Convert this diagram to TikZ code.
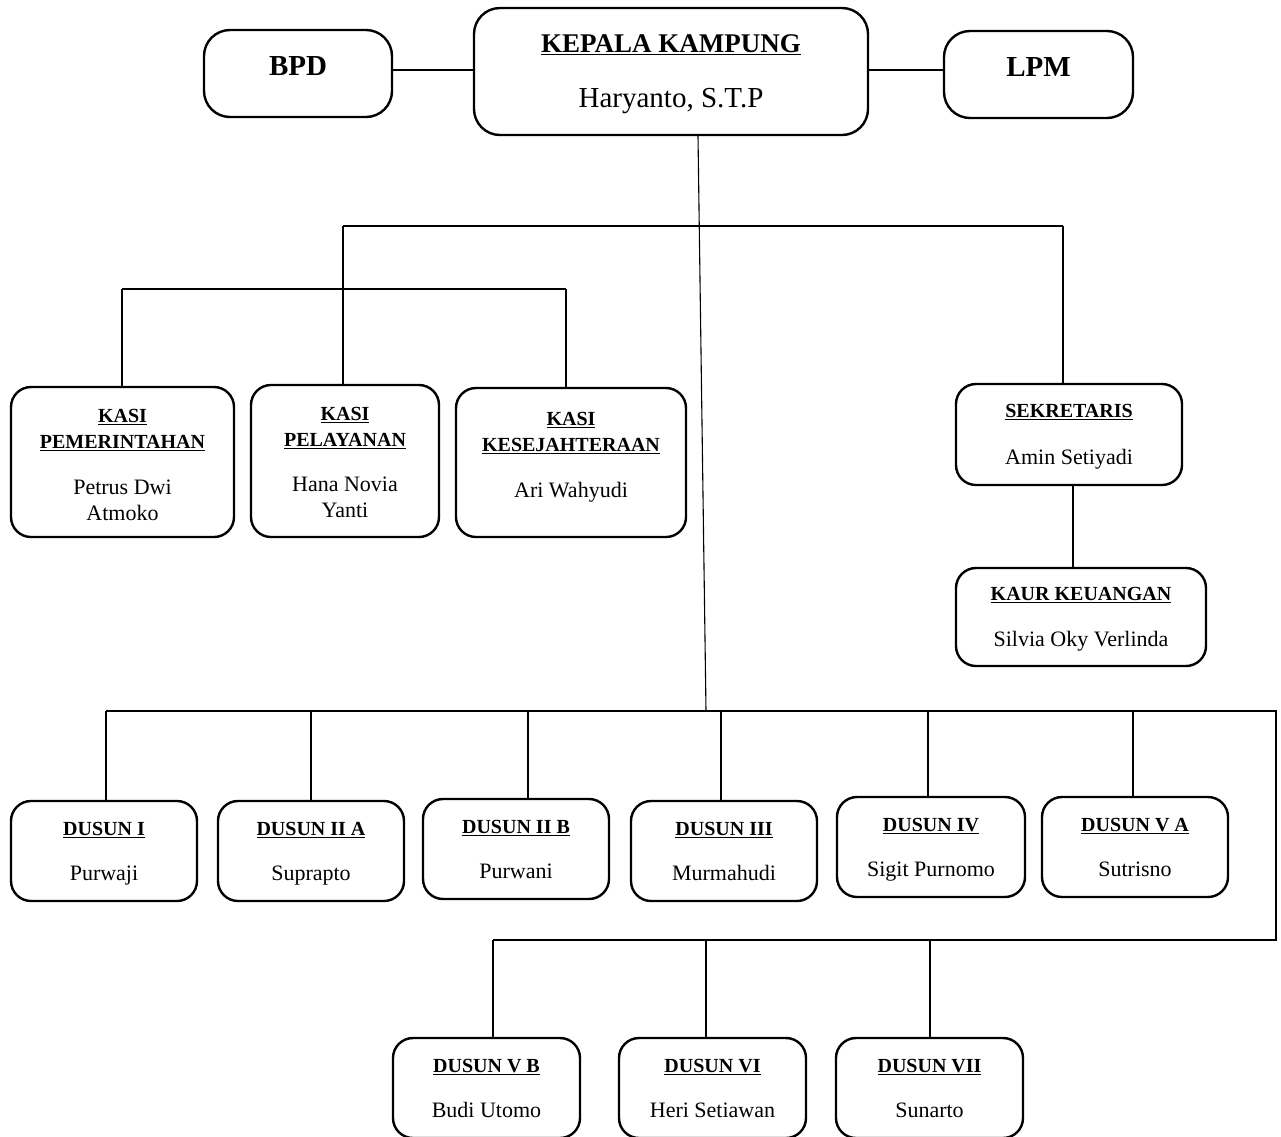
\documentclass[tikz,border=0pt]{standalone}
\usepackage{fontspec}
\setmainfont{Liberation Serif}
\newcommand{\ttl}[1]{{\fontsize{20}{26}\selectfont\bfseries\underline{#1}}}
\newcommand{\nm}[1]{{\fontsize{22}{26}\selectfont\raisebox{0pt}[\height][0pt]{#1}}}
\begin{document}
\begin{tikzpicture}[x=1pt,y=-1pt,
  box/.style={draw, line width=2.4pt, rounded corners=20pt, align=center, inner sep=0pt,
    font=\fontsize{20}{26}\selectfont},
  bigbox/.style={box, rounded corners=26pt, font=\fontsize{27}{32}\selectfont},
  conn/.style={line width=1.1pt}]
\useasboundingbox (0,0) rectangle (1281,1136);

% top row
\node[bigbox, minimum width=188pt, minimum height=87pt] (bpd) at (298,73.5)
  {\raisebox{14pt}{\fontsize{29}{32}\selectfont\bfseries BPD}};
\node[bigbox, minimum width=394pt, minimum height=127pt] (kepala) at (671,71.5)
  {{\fontsize{27}{32}\selectfont\bfseries\underline{KEPALA KAMPUNG}}\\[23pt]{\fontsize{29}{32}\selectfont\raisebox{0pt}[\height][0pt]{Haryanto, S.T.P}}};
\node[bigbox, minimum width=189pt, minimum height=87pt] (lpm) at (1038.5,74.5)
  {\raisebox{14pt}{\fontsize{29}{32}\selectfont\bfseries LPM}};

% kasi row
\node[box, minimum width=223pt, minimum height=150pt] (pem) at (122.5,462)
  {\rule{0pt}{19.5pt}\ttl{KASI}\\\ttl{PEMERINTAHAN}\\[20pt]\nm{Petrus Dwi}\\\nm{Atmoko}};
\node[box, minimum width=188pt, minimum height=152pt] (pel) at (345,461)
  {\rule{0pt}{16.5pt}\ttl{KASI}\\\ttl{PELAYANAN}\\[19pt]\nm{Hana Novia}\\\nm{Yanti}};
\node[box, minimum width=230pt, minimum height=149pt] (kes) at (571,462.5)
  {\ttl{KASI}\\\ttl{KESEJAHTERAAN}\\[20pt]\nm{Ari Wahyudi}\rule[-16pt]{0pt}{1pt}};

\node[box, minimum width=226pt, minimum height=101pt] (sek) at (1069,434.5)
  {\ttl{SEKRETARIS}\\[21pt]\nm{Amin Setiyadi}};
\node[box, minimum width=250pt, minimum height=98pt] (kaur) at (1081,617)
  {\ttl{KAUR KEUANGAN}\\[20pt]\nm{Silvia Oky Verlinda}};

% dusun rows
\node[box, minimum width=186pt, minimum height=100pt] (d1) at (104,851) {\ttl{DUSUN I}\\[19pt]\nm{Purwaji}};
\node[box, minimum width=186pt, minimum height=100pt] (d2a) at (311,851) {\ttl{DUSUN II A}\\[19pt]\nm{Suprapto}};
\node[box, minimum width=186pt, minimum height=100pt] (d2b) at (516,849) {\ttl{DUSUN II B}\\[19pt]\nm{Purwani}};
\node[box, minimum width=186pt, minimum height=100pt] (d3) at (724,851) {\ttl{DUSUN III}\\[19pt]\nm{Murmahudi}};
\node[box, minimum width=188pt, minimum height=100pt] (d4) at (931,847) {\ttl{DUSUN IV}\\[19pt]\nm{Sigit Purnomo}};
\node[box, minimum width=186pt, minimum height=100pt] (d5a) at (1135,847) {\ttl{DUSUN V A}\\[19pt]\nm{Sutrisno}};
\node[box, minimum width=187pt, minimum height=100pt] (d5b) at (486.5,1088) {\ttl{DUSUN V B}\\[19pt]\nm{Budi Utomo}};
\node[box, minimum width=187pt, minimum height=100pt] (d6) at (712.5,1088) {\ttl{DUSUN VI}\\[19pt]\nm{Heri Setiawan}};
\node[box, minimum width=187pt, minimum height=100pt] (d7) at (929.5,1088) {\ttl{DUSUN VII}\\[19pt]\nm{Sunarto}};

% coordinates
\coordinate (trunkEnd) at (706,711);
\coordinate (hl) at (343,226);
\coordinate (hr) at (1063,226);
\coordinate (kl) at (122,289);
\coordinate (kr) at (566,289);
\coordinate (b0) at (106,711);
\coordinate (bR) at (1276,711);
\coordinate (cR) at (1276,940);
\coordinate (c0) at (493,940);
\coordinate (t2a) at (311,711);
\coordinate (t2b) at (528,711);
\coordinate (t3) at (721,711);
\coordinate (t4) at (928,711);
\coordinate (t5a) at (1133,711);
\coordinate (t6) at (706,940);
\coordinate (t7) at (930,940);

% connectors
\draw[conn] ([yshift=3.5pt]bpd.east) -- ([yshift=3.5pt]bpd.east -| kepala.west);
\draw[conn] ([yshift=4.5pt]lpm.west) -- ([yshift=4.5pt]lpm.west -| kepala.east);
\draw[conn] ([xshift=27pt]kepala.south) -- (trunkEnd);
\draw[conn] (hl) -- (hr);
\draw[conn] (hl) -- (hl |- pel.north);
\draw[conn] (hr) -- (hr |- sek.north);
\draw[conn] (kl) -- (kr);
\draw[conn] (kl) -- (kl |- pem.north);
\draw[conn] (kr) -- (kr |- kes.north);
\draw[conn] ([xshift=4pt]sek.south) -- ([xshift=4pt]sek.south |- kaur.north);

\draw[conn] (b0) -- (bR) -- (cR) -- (c0);
\draw[conn] (b0) -- (b0 |- d1.north);
\draw[conn] (t2a) -- (t2a |- d2a.north);
\draw[conn] (t2b) -- (t2b |- d2b.north);
\draw[conn] (t3) -- (t3 |- d3.north);
\draw[conn] (t4) -- (t4 |- d4.north);
\draw[conn] (t5a) -- (t5a |- d5a.north);
\draw[conn] (c0) -- (c0 |- d5b.north);
\draw[conn] (t6) -- (t6 |- d6.north);
\draw[conn] (t7) -- (t7 |- d7.north);
\end{tikzpicture}
\end{document}
